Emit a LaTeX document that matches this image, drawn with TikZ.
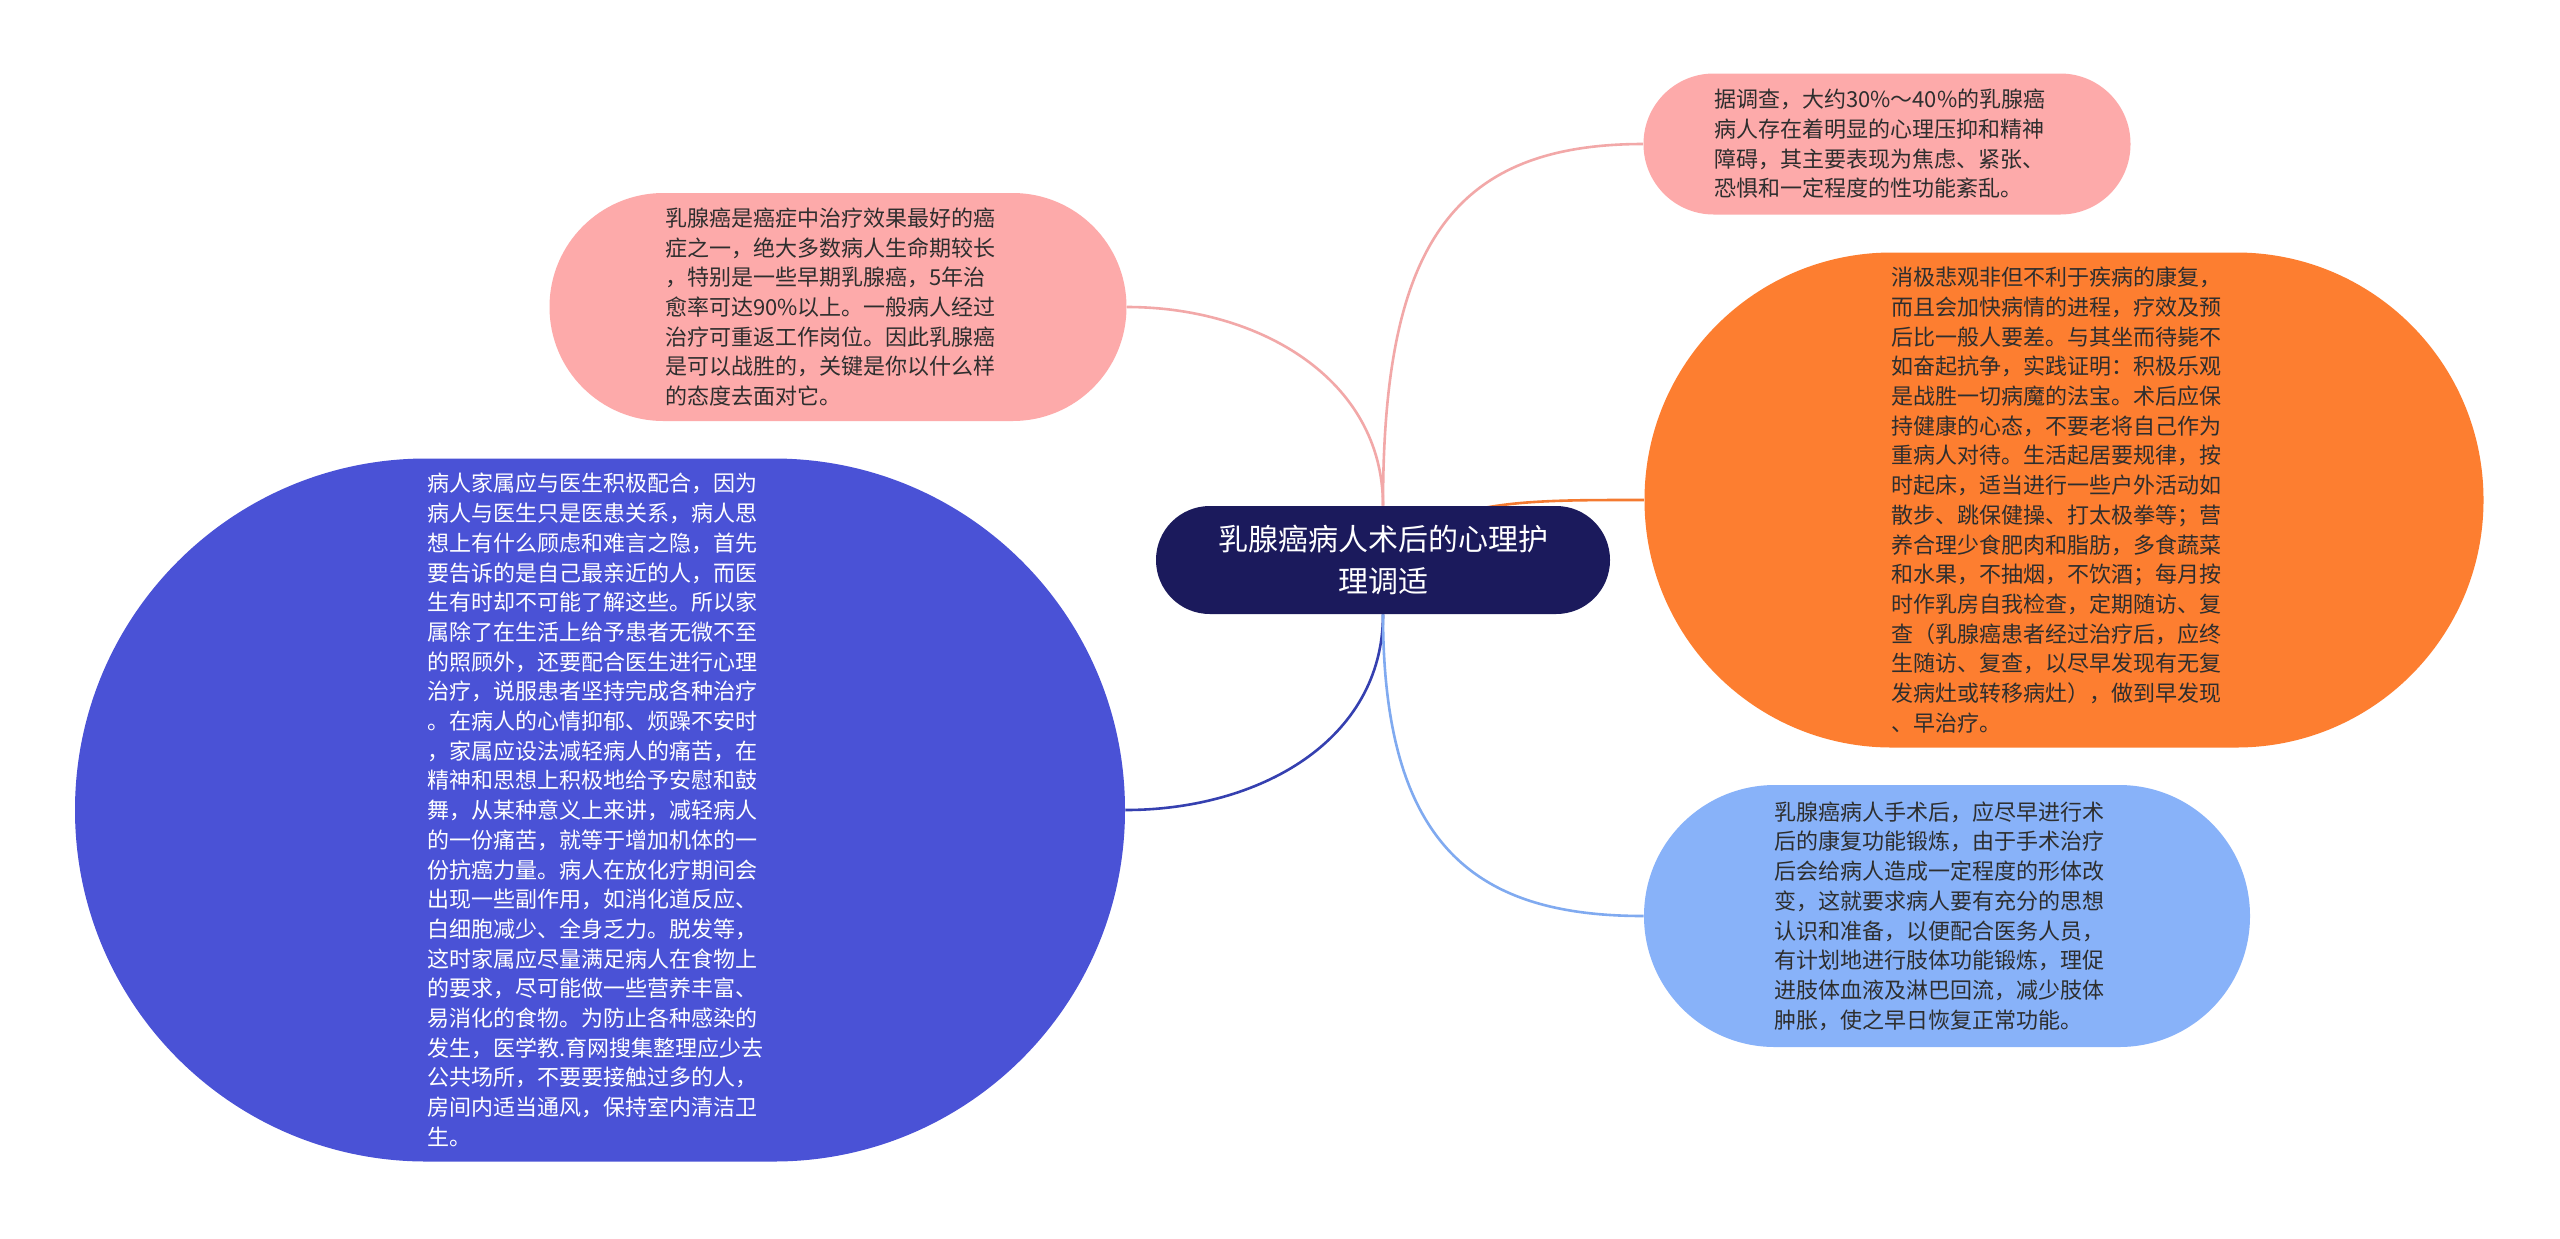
\documentclass[tikz,border=0pt]{standalone}
\usepackage{fontspec}
\setmainfont{Noto Sans CJK SC}
\usetikzlibrary{backgrounds}
\definecolor{pinkfill}{HTML}{FDAAAA}
\definecolor{orangefill}{HTML}{FD7E30}
\definecolor{lightbluefill}{HTML}{88B2F9}
\definecolor{bigbluefill}{HTML}{4A52D6}
\definecolor{centerfill}{HTML}{1B1A5C}
\definecolor{pinkline}{HTML}{F2A8A8}
\definecolor{orangeline}{HTML}{F47A30}
\definecolor{darkblueline}{HTML}{3540B0}
\definecolor{lightblueline}{HTML}{80AAF0}
\definecolor{darktext}{HTML}{2E2E2E}
\tikzset{
  leafbox/.style={rectangle, inner sep=0pt, align=left, text width=173pt,
    font=\fontsize{11pt}{14.85pt}\selectfont},
  link/.style={line width=1.3pt}
}
\begin{document}
\begin{tikzpicture}[x=0.5pt,y=-0.5pt]
\begin{pgfonlayer}{background}
\fill[white] (0,0) rectangle (2560,1238);
\end{pgfonlayer}
\useasboundingbox (0,0) rectangle (2560,1238);

\node[rectangle, fill=centerfill, text=white, minimum width=227pt, minimum height=54pt,
  rounded corners=26.9pt, align=center, font=\fontsize{15pt}{21pt}\selectfont, inner sep=0pt]
  (ct) at (1383,560) {乳腺癌病人术后的心理护\\理调适};

\node[leafbox, fill=pinkfill, text=darktext, minimum width=288.5pt, minimum height=114pt,
  rounded corners=56.9pt] (tl) at (838,307)
{乳腺癌是癌症中治疗效果最好的癌\\
症之一，绝大多数病人生命期较长\\
，特别是一些早期乳腺癌，5年治\\
愈率可达90\%以上。一般病人经过\\
治疗可重返工作岗位。因此乳腺癌\\
是可以战胜的，关键是你以什么样\\
的态度去面对它。};

\node[leafbox, fill=pinkfill, text=darktext, minimum width=243.5pt, minimum height=70.5pt,
  rounded corners=35.1pt] (tr) at (1887,144)
{据调查，大约30\%～40\%的乳腺癌\\
病人存在着明显的心理压抑和精神\\
障碍，其主要表现为焦虑、紧张、\\
恐惧和一定程度的性功能紊乱。};

\node[leafbox, fill=orangefill, text=darktext, minimum width=419.5pt, minimum height=247.5pt,
  rounded corners=123.6pt] (or) at (2064,500)
{消极悲观非但不利于疾病的康复，\\
而且会加快病情的进程，疗效及预\\
后比一般人要差。与其坐而待毙不\\
如奋起抗争，实践证明：积极乐观\\
是战胜一切病魔的法宝。术后应保\\
持健康的心态，不要老将自己作为\\
重病人对待。生活起居要规律，按\\
时起床，适当进行一些户外活动如\\
散步、跳保健操、打太极拳等；营\\
养合理少食肥肉和脂肪，多食蔬菜\\
和水果，不抽烟，不饮酒；每月按\\
时作乳房自我检查，定期随访、复\\
查（乳腺癌患者经过治疗后，应终\\
生随访、复查，以尽早发现有无复\\
发病灶或转移病灶），做到早发现\\
、早治疗。};

\node[leafbox, fill=lightbluefill, text=darktext, minimum width=303pt, minimum height=131pt,
  rounded corners=65.4pt] (lb) at (1947,916)
{乳腺癌病人手术后，应尽早进行术\\
后的康复功能锻炼，由于手术治疗\\
后会给病人造成一定程度的形体改\\
变，这就要求病人要有充分的思想\\
认识和准备，以便配合医务人员，\\
有计划地进行肢体功能锻炼，理促\\
进肢体血液及淋巴回流，减少肢体\\
肿胀，使之早日恢复正常功能。};

\node[leafbox, fill=bigbluefill, text=white, minimum width=525pt, minimum height=351.5pt,
  rounded corners=175.6pt] (bb) at (600,810)
{病人家属应与医生积极配合，因为\\
病人与医生只是医患关系，病人思\\
想上有什么顾虑和难言之隐，首先\\
要告诉的是自己最亲近的人，而医\\
生有时却不可能了解这些。所以家\\
属除了在生活上给予患者无微不至\\
的照顾外，还要配合医生进行心理\\
治疗，说服患者坚持完成各种治疗\\
。在病人的心情抑郁、烦躁不安时\\
，家属应设法减轻病人的痛苦，在\\
精神和思想上积极地给予安慰和鼓\\
舞，从某种意义上来讲，减轻病人\\
的一份痛苦，就等于增加机体的一\\
份抗癌力量。病人在放化疗期间会\\
出现一些副作用，如消化道反应、\\
白细胞减少、全身乏力。脱发等，\\
这时家属应尽量满足病人在食物上\\
的要求，尽可能做一些营养丰富、\\
易消化的食物。为防止各种感染的\\
发生，医学教.育网搜集整理应少去\\
公共场所，不要要接触过多的人，\\
房间内适当通风，保持室内清洁卫\\
生。};

\begin{pgfonlayer}{background}
\draw[link, pinkline] (ct.north) .. controls +(0,-126) and +(133,0) .. (tl.east);
\draw[link, pinkline] (ct.north) .. controls +(0,-256) and +(-194,0) .. (tr.west);
\draw[link, orangeline] (ct.center) .. controls +(57,-61) and +(-124,0) .. (or.west);
\draw[link, darkblueline] (ct.south) .. controls +(0,126) and +(134,0) .. (bb.east);
\draw[link, lightblueline] (ct.south) .. controls +(0,236) and +(-164,0) .. (lb.west);
\end{pgfonlayer}
\end{tikzpicture}
\end{document}
